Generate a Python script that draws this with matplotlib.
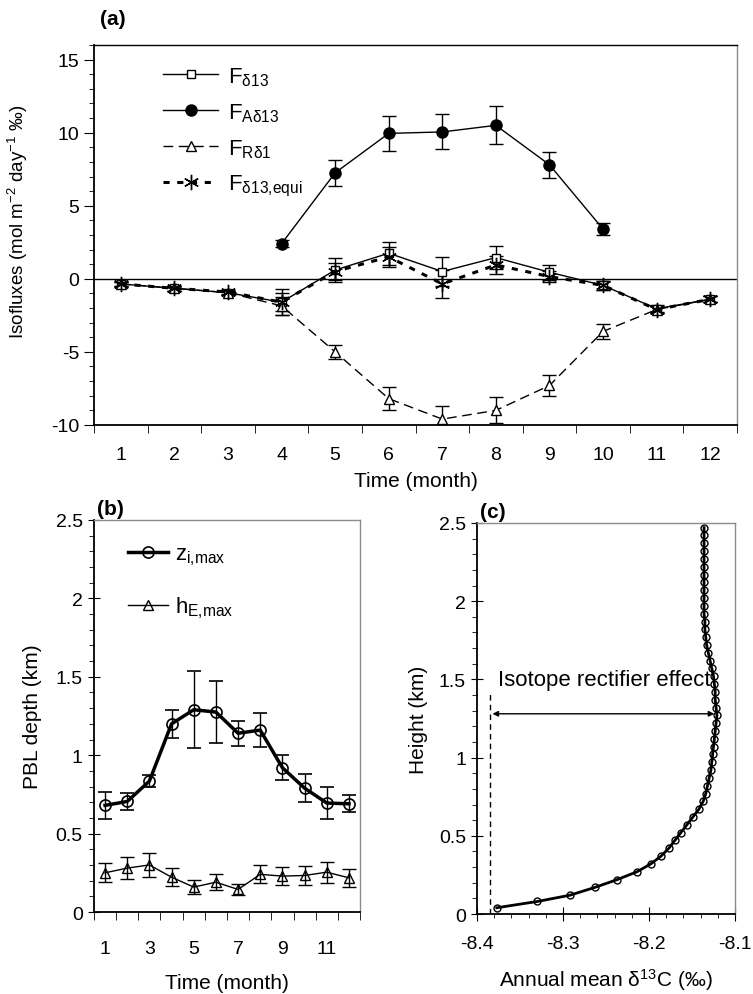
import matplotlib
matplotlib.use('Agg')
import matplotlib.pyplot as plt
from matplotlib.lines import Line2D
from matplotlib.ticker import MultipleLocator, FixedLocator

plt.rcParams['font.family'] = ['Liberation Sans', 'DejaVu Sans']
plt.rcParams['mathtext.fontset'] = 'custom'
plt.rcParams['mathtext.rm'] = 'Liberation Sans'
plt.rcParams['mathtext.it'] = 'Liberation Sans'
plt.rcParams['axes.unicode_minus'] = False

# ---- panel (a) data: isofluxes ----
months = [1, 2, 3, 4, 5, 6, 7, 8, 9, 10, 11, 12]
f_d13 = [-0.35, -0.65, -0.95, -1.6, 0.6, 1.75, 0.5, 1.45, 0.45, -0.45, -2.05, -1.4]
f_d13_err = [0.2, 0.15, 0.15, 0.9, 0.8, 0.8, 1.0, 0.8, 0.5, 0.3, 0.25, 0.2]
months_a = [4, 5, 6, 7, 8, 9, 10]
f_ad13 = [2.4, 7.25, 9.95, 10.05, 10.5, 7.8, 3.4]
f_ad13_err = [0.25, 0.9, 1.2, 1.2, 1.3, 0.9, 0.4]
f_rd1 = [-0.35, -0.65, -0.95, -1.85, -5.0, -8.2, -9.6, -9.0, -7.3, -3.6, -2.1, -1.4]
f_rd1_err = [0.15, 0.15, 0.15, 0.6, 0.5, 0.8, 0.9, 0.9, 0.7, 0.5, 0.25, 0.2]
f_equi = [-0.35, -0.65, -0.9, -1.6, 0.5, 1.5, -0.35, 0.95, 0.15, -0.45, -2.1, -1.4]
f_equi_err = [0.15, 0.15, 0.15, 0.6, 0.6, 0.7, 0.95, 0.6, 0.4, 0.3, 0.25, 0.2]

# ---- panel (b) data: PBL depth ----
zi_max = [0.68, 0.705, 0.835, 1.2, 1.29, 1.275, 1.14, 1.16, 0.92, 0.79, 0.695, 0.69]
zi_err = [0.087, 0.053, 0.04, 0.088, 0.245, 0.2, 0.08, 0.11, 0.08, 0.09, 0.1, 0.055]
he_max = [0.25, 0.28, 0.30, 0.222, 0.159, 0.19, 0.144, 0.24, 0.229, 0.233, 0.254, 0.218]
he_err = [0.06, 0.072, 0.075, 0.058, 0.042, 0.05, 0.036, 0.057, 0.058, 0.063, 0.067, 0.058]

# ---- panel (c) data: annual mean d13C profile ----
height = [0.04, 0.08, 0.12, 0.17, 0.22, 0.27, 0.32, 0.37, 0.42, 0.47,
          0.52, 0.57, 0.62, 0.67, 0.72, 0.77, 0.82, 0.87, 0.92, 0.97,
          1.02, 1.07, 1.12, 1.17, 1.22, 1.27, 1.32, 1.37, 1.42, 1.47,
          1.52, 1.57, 1.62, 1.67, 1.72, 1.77, 1.82, 1.87, 1.92, 1.97,
          2.02, 2.07, 2.12, 2.17, 2.22, 2.27, 2.32, 2.37, 2.42, 2.47]
d13c = [-8.377, -8.330, -8.292, -8.263, -8.237, -8.214, -8.198, -8.186, -8.177, -8.170,
        -8.163, -8.156, -8.149, -8.142, -8.137, -8.134, -8.132, -8.130, -8.128, -8.127,
        -8.126, -8.125, -8.124, -8.123, -8.122, -8.121, -8.122, -8.123, -8.123, -8.124,
        -8.125, -8.127, -8.129, -8.131, -8.133, -8.134, -8.135, -8.135, -8.136, -8.136,
        -8.136, -8.136, -8.136, -8.136, -8.136, -8.136, -8.136, -8.136, -8.136, -8.136]
rect_left = -8.385
rect_right = -8.124
rect_h = 1.28

fig = plt.figure(figsize=(7.53, 9.95), dpi=100)
ax1 = fig.add_axes([0.1248, 0.5719, 0.8540, 0.3819])
ax2 = fig.add_axes([0.1248, 0.0824, 0.3533, 0.3940])
ax3 = fig.add_axes([0.6335, 0.0804, 0.3426, 0.3930])

TFS = 14   # tick labels
LFS = 15   # axis labels / legend


def style_axes(ax):
    for s in ['top', 'right']:
        ax.spines[s].set_color('#8c8c8c')
        ax.spines[s].set_linewidth(1.0)
    for s in ['left', 'bottom']:
        ax.spines[s].set_linewidth(1.3)
    ax.tick_params(labelsize=TFS)


eb = dict(capsize=5, elinewidth=1, capthick=1, color='k')

# (a)
ax1.axhline(0, color='k', lw=1)
ax1.errorbar(months, f_d13, yerr=f_d13_err, marker='s', ms=6, mfc='white', mec='k',
             lw=1, **eb)
ax1.errorbar(months_a, f_ad13, yerr=f_ad13_err, marker='o', ms=8, mfc='k', mec='k',
             lw=1, **eb)
ax1.errorbar(months, f_rd1, yerr=f_rd1_err, marker='^', ms=7, mfc='white', mec='k',
             lw=1, ls=(0, (7, 4)), **eb)
ax1.errorbar(months, f_equi, yerr=f_equi_err, marker=(6, 2, 0), ms=11, mec='k',
             lw=2.2, ls=(0, (2, 2.5)), **eb)
ax1.set_xlim(0.5, 12.5)
ax1.set_ylim(-10, 16)
ax1.xaxis.set_major_locator(FixedLocator(months))
ax1.xaxis.set_minor_locator(MultipleLocator(1, offset=0.5))
ax1.tick_params(axis='x', which='major', length=0, pad=15)
ax1.tick_params(axis='x', which='minor', length=6, direction='out')
ax1.yaxis.set_major_locator(FixedLocator([-10, -5, 0, 5, 10, 15]))
ax1.yaxis.set_minor_locator(MultipleLocator(1))
ax1.tick_params(axis='y', which='major', length=7, direction='out')
ax1.tick_params(axis='y', which='minor', length=3.5, direction='out')
ax1.set_xlabel('Time (month)', fontsize=LFS, labelpad=6)
ax1.set_ylabel(r'Isofluxes (mol m$^{-2}$ day$^{-1}$ ‰)', fontsize=13.5)
ax1.yaxis.set_label_coords(-0.1, 0.537)
style_axes(ax1)
ax1.spines['top'].set_color('k')
h_a = [Line2D([], [], color='k', lw=1, marker='s', ms=6, mfc='white'),
       Line2D([], [], color='k', lw=1, marker='o', ms=8, mfc='k'),
       Line2D([], [], color='k', lw=1, ls=(0, (7, 4)), marker='^', ms=7, mfc='white'),
       Line2D([], [], color='k', lw=2.2, ls=(0, (2, 2.5)), marker=(6, 2, 0), ms=11)]
l_a = [r'F$_{\mathrm{δ13}}$', r'F$_{\mathrm{Aδ13}}$', r'F$_{\mathrm{Rδ1}}$',
       r'F$_{\mathrm{δ13{,}equi}}$']
ax1.legend(h_a, l_a, loc='upper left', bbox_to_anchor=(0.107, 0.947), frameon=False,
           fontsize=LFS + 1, handlelength=2.5, handletextpad=0.45, labelspacing=0.6,
           borderpad=0, borderaxespad=0)
ax1.text(0.01, 1.045, '(a)', transform=ax1.transAxes, fontsize=LFS, fontweight='bold',
         ha='left', va='bottom')

# (b)
ax2.errorbar(months, zi_max, yerr=zi_err, marker='o', ms=8, mfc='none', mec='k',
             mew=1.2, lw=2.5, **eb)
ax2.errorbar(months, he_max, yerr=he_err, marker='^', ms=7, mfc='none', mec='k',
             lw=1, **eb)
ax2.set_xlim(0.5, 12.5)
ax2.set_ylim(0, 2.5)
ax2.xaxis.set_major_locator(FixedLocator([1, 3, 5, 7, 9, 11]))
ax2.xaxis.set_minor_locator(MultipleLocator(1, offset=0.5))
ax2.tick_params(axis='x', which='major', length=0, pad=20)
ax2.tick_params(axis='x', which='minor', length=6, direction='out')
ax2.yaxis.set_major_locator(FixedLocator([0, 0.5, 1, 1.5, 2, 2.5]))
ax2.yaxis.set_minor_locator(MultipleLocator(0.1))
ax2.set_yticklabels(['0', '0.5', '1', '1.5', '2', '2.5'])
ax2.tick_params(axis='y', which='major', length=9, direction='inout')
ax2.tick_params(axis='y', which='minor', length=3.5, direction='out')
ax2.set_xlabel('Time (month)', fontsize=LFS, labelpad=12)
ax2.set_ylabel('PBL depth (km)', fontsize=LFS, labelpad=10)
style_axes(ax2)
h_b = [Line2D([], [], color='k', lw=2.5, marker='o', ms=8, mfc='none', mew=1.2),
       Line2D([], [], color='k', lw=1, marker='^', ms=7, mfc='none')]
l_b = [r'z$_{\mathrm{i{,}max}}$', r'h$_{\mathrm{E{,}max}}$']
ax2.legend(h_b, l_b, loc='upper left', bbox_to_anchor=(0.128, 0.94), frameon=False,
           fontsize=LFS + 1, handlelength=1.8, handletextpad=0.3, labelspacing=1.25,
           borderpad=0, borderaxespad=0)
ax2.text(0.01, 1.005, '(b)', transform=ax2.transAxes, fontsize=LFS, fontweight='bold',
         ha='left', va='bottom')

# (c)
ax3.plot(d13c, height, color='k', lw=2, marker='o', ms=5, mfc='none', mec='k', mew=1)
ax3.plot([rect_left, rect_left], [0, 1.42], color='k', lw=1, ls=(0, (4, 3)))
ax3.annotate('', xy=(rect_left + 0.003, rect_h), xytext=(rect_right, rect_h),
             arrowprops=dict(arrowstyle='<|-|>', color='k', lw=1, mutation_scale=8,
                             shrinkA=0, shrinkB=0))
ax3.text(rect_left + 0.009, 1.43, 'Isotope rectifier effect', fontsize=16,
         ha='left', va='bottom')
ax3.set_xlim(-8.4, -8.1)
ax3.set_ylim(0, 2.5)
ax3.xaxis.set_major_locator(FixedLocator([-8.4, -8.3, -8.2, -8.1]))
ax3.xaxis.set_minor_locator(MultipleLocator(0.02))
ax3.set_xticklabels(['-8.4', '-8.3', '-8.2', '-8.1'])
ax3.tick_params(axis='x', which='major', length=10, direction='inout', pad=10)
ax3.tick_params(axis='x', which='minor', length=3, direction='out')
ax3.yaxis.set_major_locator(FixedLocator([0, 0.5, 1, 1.5, 2, 2.5]))
ax3.yaxis.set_minor_locator(MultipleLocator(0.1))
ax3.set_yticklabels(['0', '0.5', '1', '1.5', '2', '2.5'])
ax3.tick_params(axis='y', which='major', length=9, direction='inout')
ax3.tick_params(axis='y', which='minor', length=3.5, direction='out')
ax3.set_xlabel(r'Annual mean $\mathrm{δ}^{13}$C (‰)', fontsize=LFS, labelpad=10)
ax3.set_ylabel('Height (km)', fontsize=LFS, labelpad=8)
style_axes(ax3)
ax3.text(0.01, 1.005, '(c)', transform=ax3.transAxes, fontsize=LFS, fontweight='bold',
         ha='left', va='bottom')

fig.savefig('out.png', dpi=100)
